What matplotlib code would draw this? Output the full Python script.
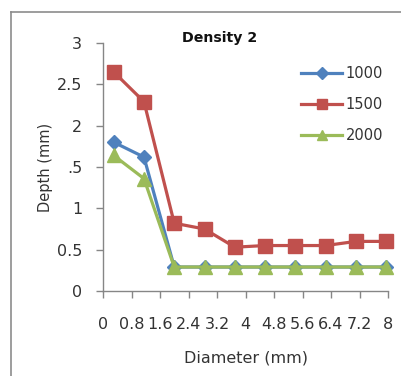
import matplotlib
matplotlib.use("Agg")
import matplotlib.pyplot as plt
from matplotlib.lines import Line2D

# Measured depth versus hole diameter for three density settings
diameter = [0.3, 1.15, 2.0, 2.85, 3.7, 4.55, 5.4, 6.25, 7.1, 7.95]
depth_1000 = [1.80, 1.62, 0.29, 0.29, 0.29, 0.29, 0.29, 0.29, 0.29, 0.29]
depth_1500 = [2.65, 2.29, 0.82, 0.75, 0.53, 0.55, 0.55, 0.55, 0.60, 0.60]
depth_2000 = [1.64, 1.36, 0.29, 0.29, 0.29, 0.29, 0.29, 0.29, 0.29, 0.29]
series_labels = ["1000", "1500", "2000"]

x_ticks = [0, 0.8, 1.6, 2.4, 3.2, 4, 4.8, 5.6, 6.4, 7.2, 8]
x_tick_labels = ["0", "0.8", "1.6", "2.4", "3.2", "4", "4.8", "5.6", "6.4", "7.2", "8"]
y_ticks = [0, 0.5, 1, 1.5, 2, 2.5, 3]
y_tick_labels = ["0", "0.5", "1", ".5", "2", "2.5", "3"]

plt.rcParams["font.family"] = ["DejaVu Sans"]

W, H = 401, 376
fig = plt.figure(figsize=(W / 100, H / 100), dpi=100)
fig.patch.set_facecolor("white")

ax = fig.add_axes([103 / W, 1 - 291 / H, (388 - 103) / W, (291 - 43) / H])

blue, red, green = "#4F81BD", "#C0504D", "#9BBB59"
ax.plot(diameter, depth_1000, color=blue, lw=2.3, marker="D", ms=7.5,
        mec=blue, mfc=blue, label=series_labels[0], clip_on=False)
ax.plot(diameter, depth_1500, color=red, lw=2.3, marker="s", ms=10,
        mec=red, mfc=red, label=series_labels[1], clip_on=False)
ax.plot(diameter, depth_2000, color=green, lw=2.3, marker="^", ms=10,
        mec=green, mfc=green, label=series_labels[2], clip_on=False)

ax.set_xlim(0, 8)
ax.set_ylim(0, 3)
ax.set_xticks(x_ticks)
ax.set_xticklabels(x_tick_labels)
ax.set_yticks(y_ticks)
ax.set_yticklabels(y_tick_labels)

for side in ("top", "right"):
    ax.spines[side].set_visible(False)
for side in ("left", "bottom"):
    ax.spines[side].set_color("#868686")
    ax.spines[side].set_linewidth(1.0)
ax.tick_params(axis="both", direction="out", length=5, width=1.0,
               color="#868686", labelsize=11.5, labelcolor="#333333")
ax.tick_params(axis="x", pad=14)
ax.tick_params(axis="y", pad=10)

ax.set_xlabel("Diameter (mm)", fontsize=11.5, color="#333333", labelpad=13)
ax.set_ylabel("Depth (mm)", fontsize=10.5, color="#333333", labelpad=3)

fig.text(220 / W, 1 - 38 / H, "Density 2", ha="center", va="center",
         fontsize=10.2, fontweight="bold", color="#111111")

leg = ax.legend(loc="upper left", bbox_to_anchor=(291 / W, 1 - 56 / H),
                bbox_transform=fig.transFigure, frameon=False,
                fontsize=10.5, handlelength=2.8, handletextpad=0.25,
                labelspacing=1.1, borderpad=0.2, markerscale=0.75)
for t in leg.get_texts():
    t.set_color("#333333")

# Chart border on the left and top
fig.add_artist(Line2D([11 / W, 11 / W], [0, 1 - 12 / H], transform=fig.transFigure,
                      color="#8c8c8c", lw=1.2))
fig.add_artist(Line2D([11 / W, 1], [1 - 12 / H, 1 - 12 / H], transform=fig.transFigure,
                      color="#8c8c8c", lw=1.2))

fig.savefig("out.png", dpi=100)
